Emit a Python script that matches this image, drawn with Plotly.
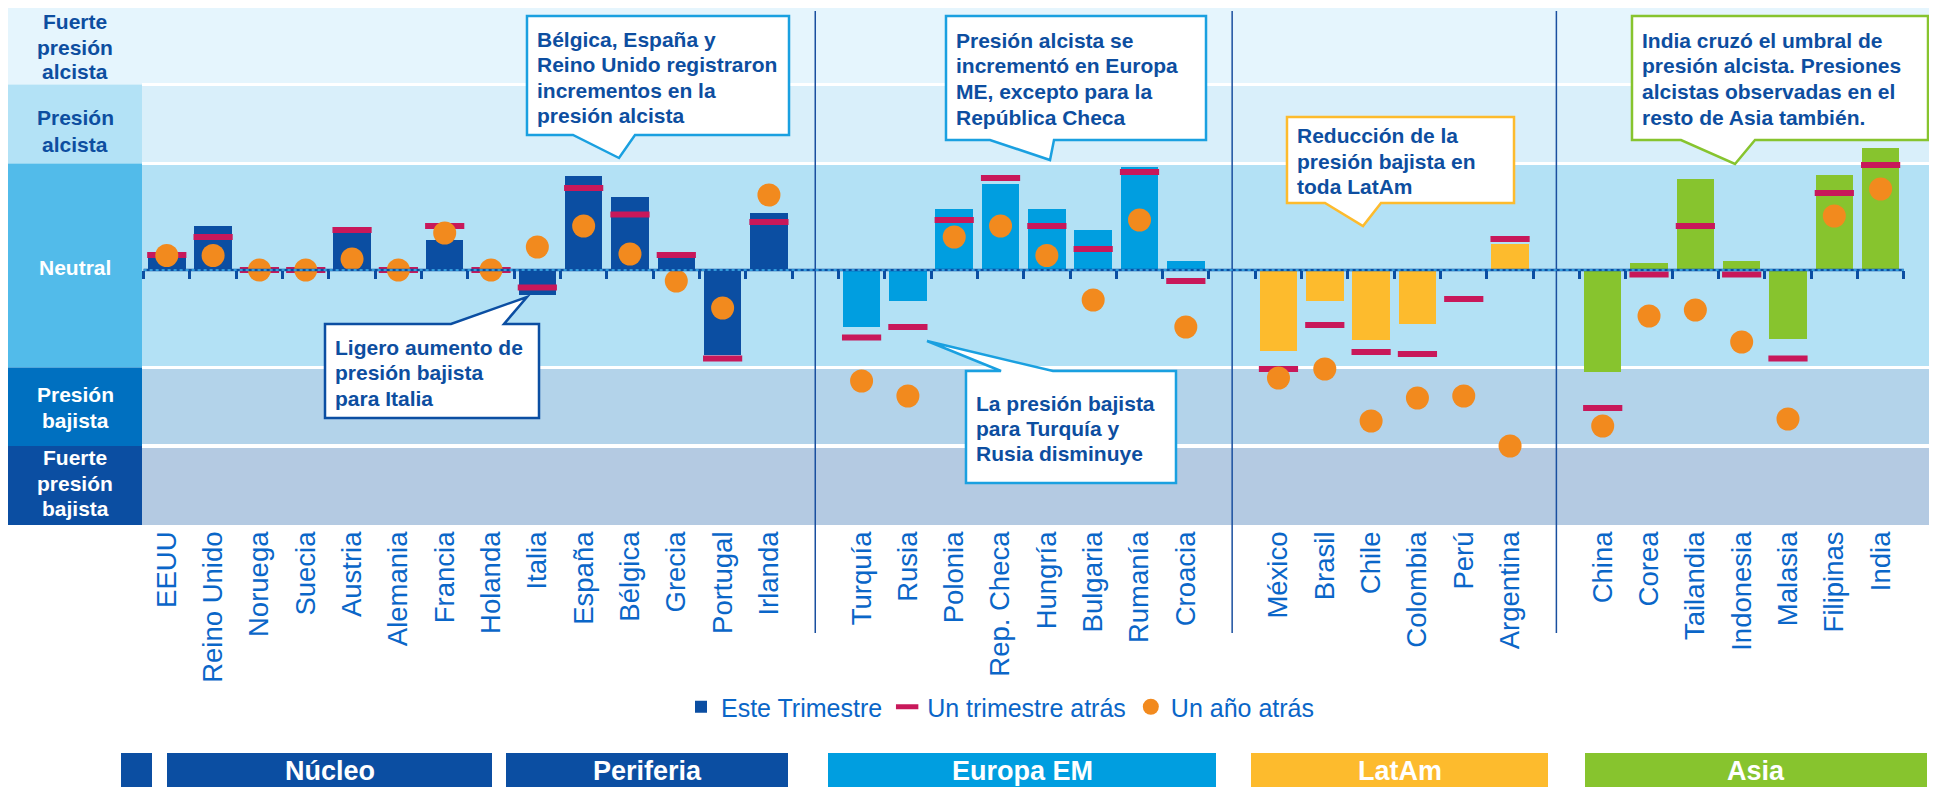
import plotly.graph_objects as go

# ---------------- data ----------------
core_countries = ["EEUU", "Reino Unido", "Noruega", "Suecia", "Austria", "Alemania", "Francia", "Holanda"]
periphery_countries = ["Italia", "España", "Bélgica", "Grecia", "Portugal", "Irlanda"]
em_europe_countries = ["Turquía", "Rusia", "Polonia", "Rep. Checa", "Hungría", "Bulgaria", "Rumanía", "Croacia"]
latam_countries = ["México", "Brasil", "Chile", "Colombia", "Perú", "Argentina"]
asia_countries = ["China", "Corea", "Tailandia", "Indonesia", "Malasia", "Filipinas", "India"]

# Este Trimestre
core_now = [0.13, 0.445, 0.0, 0.0, 0.40, 0.0, 0.30, 0.0]
periphery_now = [-0.245, 0.94, 0.73, 0.165, -0.85, 0.57]
em_europe_now = [-0.57, -0.31, 0.61, 0.86, 0.61, 0.40, 1.03, 0.09]
latam_now = [-0.81, -0.31, -0.70, -0.54, 0.0, 0.26]
asia_now = [-1.02, 0.07, 0.91, 0.09, -0.685, 0.95, 1.22]

# Un trimestre atrás
core_prev_q = [0.15, 0.33, 0.0, 0.0, 0.40, 0.0, 0.44, 0.0]
periphery_prev_q = [-0.175, 0.82, 0.555, 0.15, -0.885, 0.48]
em_europe_prev_q = [-0.675, -0.57, 0.50, 0.92, 0.44, 0.21, 0.98, -0.11]
latam_prev_q = [-0.99, -0.55, -0.82, -0.84, -0.29, 0.31]
asia_prev_q = [-1.38, -0.045, 0.44, -0.045, -0.885, 0.77, 1.05]

# Un año atrás
core_year_ago = [0.145, 0.145, 0.0, 0.0, 0.11, 0.0, 0.37, 0.0]
periphery_year_ago = [0.23, 0.44, 0.16, -0.11, -0.38, 0.75]
em_europe_year_ago = [-1.11, -1.26, 0.33, 0.44, 0.145, -0.30, 0.50, -0.57]
latam_year_ago = [-1.08, -0.99, -1.51, -1.28, -1.26, -1.76]
asia_year_ago = [-1.56, -0.46, -0.40, -0.72, -1.49, 0.54, 0.81]

group_names = ["Núcleo", "Periferia", "Europa EM", "LatAm", "Asia"]
band_labels = [["Fuerte", "presión", "alcista"], ["Presión", "alcista"], ["Neutral"],
               ["Presión", "bajista"], ["Fuerte", "presión", "bajista"]]
# band limits on the value scale (top, bottom)
band_top = [2.64, 1.84, 1.05, -0.99, -1.78]
band_bottom = [1.87, 1.08, -0.96, -1.74, -2.55]
legend_names = ["Este Trimestre", "Un trimestre atrás", "Un año atrás"]

# ---------------- styling ----------------
DARK = "#0B4EA2"
EM_BLUE = "#009EE0"
LATAM_Y = "#FDBB2D"
ASIA_G = "#87C42E"
RED = "#C8185A"
ORANGE = "#F28A1E"
TXT = "#0D4EA0"
TICKTXT = "#0A66C8"
FONT = "Liberation Sans, Arial, sans-serif"

# page has an 8px body margin: the figure is drawn 8px right / down of the window origin
OFF = 8
W, H = 1937 - OFF, 787 - OFF
ML, MT, MB = 142 - OFF, 0, 262
MR = 0
PW, PH = W - ML - MR, H - MT - MB
Y_TOP = 2.62  # value at the top edge of the plot area


def px(x):
    # reference window pixel -> paper x
    return (x - OFF - ML) / PW


def py(y):
    # reference window pixel -> paper y
    return (H - MB - (y - OFF)) / PH


# ---------------- positions ----------------
blocks = [
    (core_countries + periphery_countries, [DARK] * (len(core_countries) + len(periphery_countries)),
     core_now + periphery_now, core_prev_q + periphery_prev_q, core_year_ago + periphery_year_ago),
    (em_europe_countries, [EM_BLUE] * len(em_europe_countries), em_europe_now, em_europe_prev_q, em_europe_year_ago),
    (latam_countries, [LATAM_Y] * len(latam_countries), latam_now, latam_prev_q, latam_year_ago),
    (asia_countries, [ASIA_G] * len(asia_countries), asia_now, asia_prev_q, asia_year_ago),
]
xs, names, colors, now, prevq, yago, seps = [], [], [], [], [], [], []
pos = 0
for i, (cs, cols, a, b, c) in enumerate(blocks):
    for j, name in enumerate(cs):
        xs.append(pos)
        names.append(name)
        colors.append(cols[j])
        now.append(a[j])
        prevq.append(b[j])
        yago.append(c[j])
        pos += 1
    if i < len(blocks) - 1:
        seps.append(pos)
        pos += 1

x_lo, x_hi = xs[0] - 0.5, xs[-1] + 0.5

fig = go.Figure()
fig.add_trace(go.Bar(x=xs, y=now, width=0.81, marker=dict(color=colors, line=dict(width=0)),
                     name=legend_names[0], hoverinfo="skip"))
fig.add_trace(go.Scatter(x=xs, y=prevq, mode="markers", xaxis="x2", name=legend_names[1],
                         marker=dict(symbol="line-ew", size=28, line=dict(width=6, color=RED), color=RED),
                         hoverinfo="skip"))
fig.add_trace(go.Scatter(x=xs, y=yago, mode="markers", xaxis="x2", name=legend_names[2],
                         marker=dict(symbol="circle", size=23, color=ORANGE, line=dict(width=0)),
                         hoverinfo="skip"))

shapes = []
band_colors = ["#E5F5FD", "#D9EFFA", "#B3E1F5", "#B3D3EA", "#B4CAE2"]
cell_colors = ["#E5F5FD", "#B3E2F6", "#52BBEA", "#0070C0", "#0B4EA2"]
cell_text = [TXT, TXT, "white", "white", "white"]
for k in range(5):
    shapes.append(dict(type="rect", xref="paper", yref="y", x0=0, x1=1, y0=band_bottom[k], y1=band_top[k],
                       fillcolor=band_colors[k], line=dict(width=0), layer="below"))
# label column (contiguous cells)
cell_edges = [band_top[0]] + [(band_bottom[k] + band_top[k + 1]) / 2 for k in range(4)] + [band_bottom[4]]
for k in range(5):
    shapes.append(dict(type="rect", xref="paper", yref="y", x0=px(8), x1=0, y0=cell_edges[k + 1],
                       y1=cell_edges[k], fillcolor=cell_colors[k], line=dict(width=0), layer="below"))
# region separators
for s in seps:
    shapes.append(dict(type="line", xref="x", yref="paper", x0=s, x1=s, y0=py(633), y1=py(11),
                       line=dict(color="#1A4F9F", width=1.5), layer="below"))
# zero line
shapes.append(dict(type="line", xref="x", yref="y", x0=x_lo, x1=x_hi, y0=0, y1=0,
                   line=dict(color=DARK, width=2.5), layer="above"))
shapes.append(dict(type="line", xref="x", yref="y", x0=x_lo, x1=x_hi, y0=0, y1=0,
                   line=dict(color="#40B4EE", width=1.5, dash="dot"), layer="above"))

annotations = []
# label column text
cell_line_y = [[21, 47, 72], [118, 144], [267], [395, 420], [457, 483, 508]]
for k in range(5):
    for t, yy in zip(band_labels[k], cell_line_y[k]):
        annotations.append(dict(xref="paper", yref="paper", x=px(75), y=py(yy), text="<b>%s</b>" % t,
                                showarrow=False, xanchor="center", yanchor="middle",
                                font=dict(family=FONT, size=21, color=cell_text[k])))

# callouts: box (x0, x1, y0, y1), tail side, tail base (a, b), tip, border colour, lines, text x, first line y
callouts = [
    ((527, 789, 16, 135), "bottom", (573, 635), (619, 158), "#1AA0E0",
     ["Bélgica, España y", "Reino Unido registraron", "incrementos en la", "presión alcista"], 535, 39),
    ((325, 539, 324, 418), "top", (451, 504), (527, 297), DARK,
     ["Ligero aumento de", "presión bajista", "para Italia"], 333, 347),
    ((946, 1206, 16, 140), "bottom", (990, 1054), (1050, 160), "#1AA0E0",
     ["Presión alcista se", "incrementó en Europa", "ME, excepto para la", "República Checa"], 954, 40.5),
    ((966, 1176, 371, 483), "top", (1001, 1053), (927, 341), "#1AA0E0",
     ["La presión bajista", "para Turquía y", "Rusia disminuye"], 974, 403),
    ((1287, 1514, 117, 203), "bottom", (1325, 1381), (1363, 226), LATAM_Y,
     ["Reducción de la", "presión bajista en", "toda LatAm"], 1295, 136),
    ((1632, 1928, 16, 140), "bottom", (1681, 1755), (1735, 164), ASIA_G,
     ["India cruzó el umbral de", "presión alcista. Presiones", "alcistas observadas en el",
      "resto de Asia también."], 1640, 40.5),
]
for (x0, x1, y0, y1), side, (a, b), (tx, ty), col, lines, tx0, ty0 in callouts:
    if side == "bottom":
        pts = [(x0, y0), (x1, y0), (x1, y1), (b, y1), (tx, ty), (a, y1), (x0, y1)]
    else:
        pts = [(x0, y0), (a, y0), (tx, ty), (b, y0), (x1, y0), (x1, y1), (x0, y1)]
    path = "M " + " L ".join("%.5f,%.5f" % (px(p[0]), py(p[1])) for p in pts) + " Z"
    shapes.append(dict(type="path", xref="paper", yref="paper", path=path, fillcolor="white",
                       line=dict(color=col, width=2.5), layer="above"))
    for i, t in enumerate(lines):
        annotations.append(dict(xref="paper", yref="paper", x=px(tx0), y=py(ty0 + i * 25.5),
                                text="<b>%s</b>" % t, showarrow=False, xanchor="left", yanchor="middle",
                                font=dict(family=FONT, size=21, color=TXT)))

# group headers at the bottom
header_boxes = [(121, 152, DARK, ""), (167, 492, DARK, group_names[0]), (506, 788, DARK, group_names[1]),
                (828, 1216, EM_BLUE, group_names[2]), (1251, 1548, LATAM_Y, group_names[3]),
                (1585, 1927, ASIA_G, group_names[4])]
for x0, x1, col, t in header_boxes:
    shapes.append(dict(type="rect", xref="paper", yref="paper", x0=px(x0), x1=px(x1), y0=py(790), y1=py(753),
                       fillcolor=col, line=dict(width=0), layer="above"))
    if t:
        annotations.append(dict(xref="paper", yref="paper", x=px((x0 + x1) / 2), y=py(771), text="<b>%s</b>" % t,
                                showarrow=False, xanchor="center", yanchor="middle",
                                font=dict(family=FONT, size=27, color="white")))

fig.update_layout(
    width=W, height=H,
    margin=dict(l=ML, r=MR, t=MT, b=MB, pad=0, autoexpand=False),
    paper_bgcolor="white", plot_bgcolor="rgba(0,0,0,0)",
    bargap=0, barmode="overlay",
    showlegend=True,
    legend=dict(orientation="h", x=px(1000), xanchor="center", y=py(707), yanchor="middle",
                font=dict(family=FONT, size=25, color=TICKTXT), bgcolor="rgba(0,0,0,0)",
                itemsizing="trace"),
    xaxis=dict(range=[-0.535, 38.217], tickmode="array", tickvals=xs, ticktext=names,
               tickangle=-90, ticks="", showgrid=False, zeroline=False, showline=False,
               tickfont=dict(family=FONT, size=27.5, color=TICKTXT), automargin=False, fixedrange=True),
    xaxis2=dict(overlaying="x", matches="x", anchor="free", position=py(270), side="bottom",
                tickmode="array", tickvals=[p - 0.5 for p in range(xs[0], xs[-1] + 2)],
                ticks="outside", ticklen=8, tickwidth=2.5, tickcolor=DARK, showticklabels=False,
                showgrid=False, zeroline=False, showline=False, automargin=False),
    yaxis=dict(range=[band_bottom[-1], Y_TOP], showticklabels=False, showgrid=False, zeroline=False,
               showline=False, ticks="", automargin=False, fixedrange=True),
    shapes=shapes, annotations=annotations,
    font=dict(family=FONT),
)

fig.write_html("out.html")
